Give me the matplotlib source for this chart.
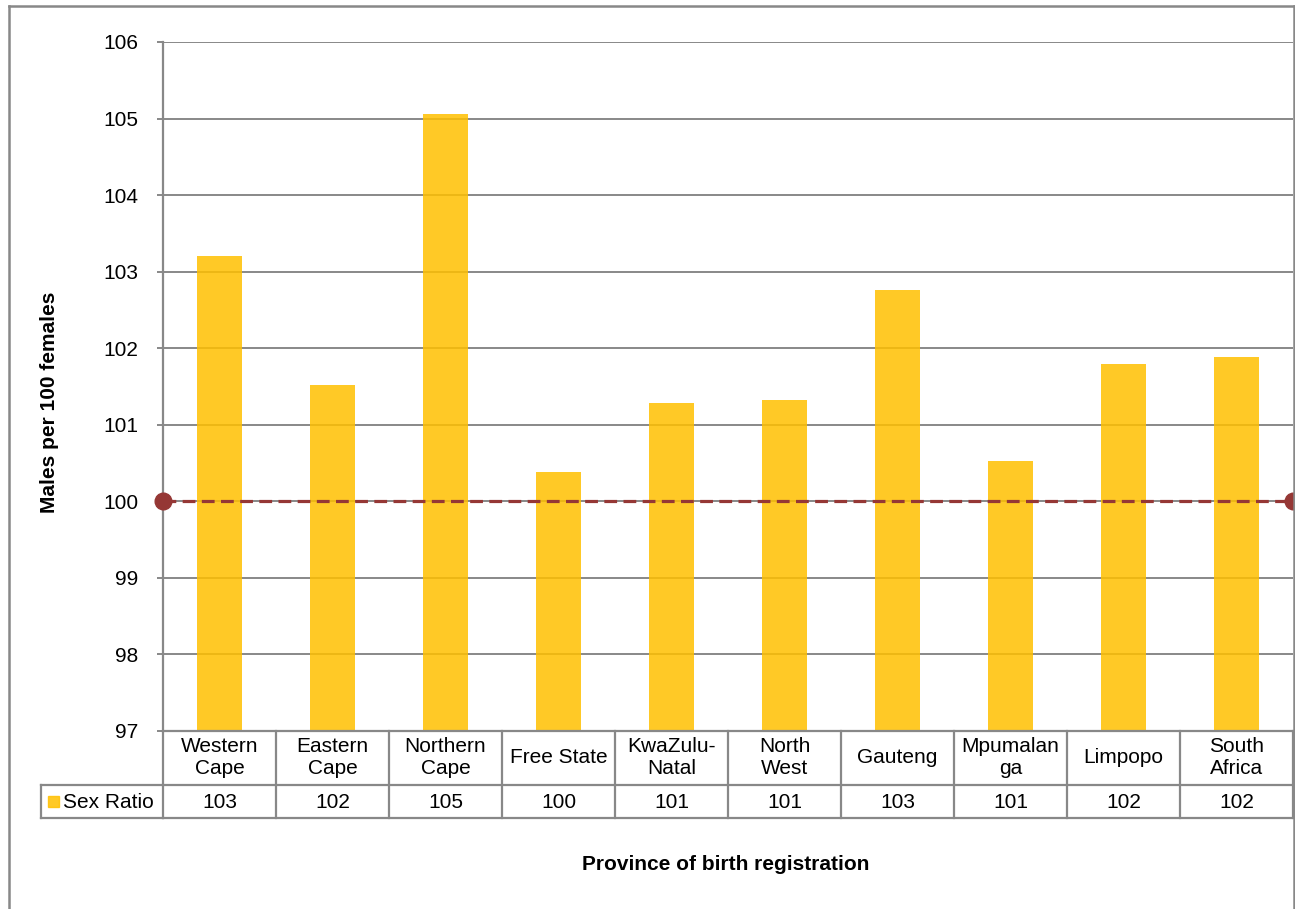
import numpy as np
import matplotlib.pyplot as plt
from matplotlib.transforms import blended_transform_factory
from matplotlib.patches import Rectangle

plt.rcParams['font.family'] = ['Liberation Sans', 'DejaVu Sans']

# sex ratio at birth by province (males per 100 females)
provinces = ['Western\nCape', 'Eastern\nCape', 'Northern\nCape', 'Free State',
             'KwaZulu-\nNatal', 'North\nWest', 'Gauteng', 'Mpumalan\nga',
             'Limpopo', 'South\nAfrica']
sex_ratio = [103.2, 101.52, 105.06, 100.38, 101.28, 101.32, 102.76, 100.52,
             101.79, 101.88]
series_name = 'Sex Ratio'
parity = 100
y_ticks = list(range(97, 107))

W, H = 1295, 909
fig = plt.figure(figsize=(W / 100, H / 100), dpi=100)

def fx(px):
    return px / W

def fy(py):
    return 1 - py / H

fs = 15
left, right, top, bottom = 163, 1293, 42, 730.7
ax = fig.add_axes([fx(left), fy(bottom), fx(right) - fx(left), fy(top) - fy(bottom)])

grey = '#888888'
gold = '#FFC000'
x = np.arange(len(provinces))

ax.bar(x, np.array(sex_ratio) - y_ticks[0], bottom=y_ticks[0], width=0.4,
       color=gold, alpha=0.85, zorder=2, linewidth=0)
ax.set_xlim(-0.5, len(provinces) - 0.5)
ax.set_ylim(y_ticks[0], y_ticks[-1])
ax.set_yticks(y_ticks)
ax.yaxis.grid(True, color=grey, linewidth=1.4, zorder=0)
ax.set_axisbelow(True)
ax.tick_params(axis='y', labelsize=fs, length=4.5, width=1.4, color=grey, pad=13)
ax.set_xticks([])
for side in ['top', 'right']:
    ax.spines[side].set_visible(False)
for side in ['left', 'bottom']:
    ax.spines[side].set_color(grey)
    ax.spines[side].set_linewidth(1.6)

# parity line at 100
xl = ax.get_xlim()
ax.plot(xl, [parity, parity], color='#953735', linewidth=2.3, dashes=(4, 2),
        marker='o', markersize=12, clip_on=False, zorder=4)

fig.text(fx(50), fy(402), 'Males per 100 females', rotation=90,
         fontsize=fs, fontweight='bold', ha='center', va='center')

# data table under the axis
tr = blended_transform_factory(ax.transData, fig.transFigure)
row1_top, row1_bot, row2_bot = bottom, 785, 818
edges = np.arange(len(provinces) + 1) - 0.5
for e in edges:
    ax.plot([e, e], [fy(row1_top), fy(row2_bot)], color=grey, linewidth=1.6,
            transform=tr, clip_on=False)
for yy in [row1_bot, row2_bot]:
    ax.plot([edges[0], edges[-1]], [fy(yy), fy(yy)], color=grey, linewidth=1.6,
            transform=tr, clip_on=False)
for i, name in enumerate(provinces):
    ax.text(i, fy((row1_top + row1_bot) / 2), name, transform=tr, ha='center',
            va='center', fontsize=fs, linespacing=1.22)
    ax.text(i, fy((row1_bot + row2_bot) / 2 + 1), f'{sex_ratio[i]:.0f}', transform=tr,
            ha='center', va='center', fontsize=fs)

# series label cell with legend key
fig.add_artist(plt.Line2D([fx(41), fx(left)], [fy(row1_bot), fy(row1_bot)], color=grey, linewidth=1.6))
fig.add_artist(plt.Line2D([fx(41), fx(left)], [fy(row2_bot), fy(row2_bot)], color=grey, linewidth=1.6))
fig.add_artist(plt.Line2D([fx(41), fx(41)], [fy(row1_bot), fy(row2_bot)], color=grey, linewidth=1.6))
fig.add_artist(Rectangle((fx(48), fy(807)), fx(11), 11 / H, color=gold, alpha=0.85,
                         transform=fig.transFigure))
fig.text(fx(63), fy(802), series_name, fontsize=fs, va='center', ha='left')

fig.text(fx(726), fy(865), 'Province of birth registration',
         fontsize=fs, fontweight='bold', ha='center', va='center')

# chart border
fig.add_artist(plt.Line2D([fx(9), fx(9)], [fy(6), 0], color=grey, linewidth=1.8))
fig.add_artist(plt.Line2D([fx(9), fx(1294)], [fy(6), fy(6)], color=grey, linewidth=1.8))
fig.add_artist(plt.Line2D([fx(1293.5), fx(1293.5)], [fy(6), 0], color=grey, linewidth=1.8))

fig.savefig('out.png', dpi=100)
